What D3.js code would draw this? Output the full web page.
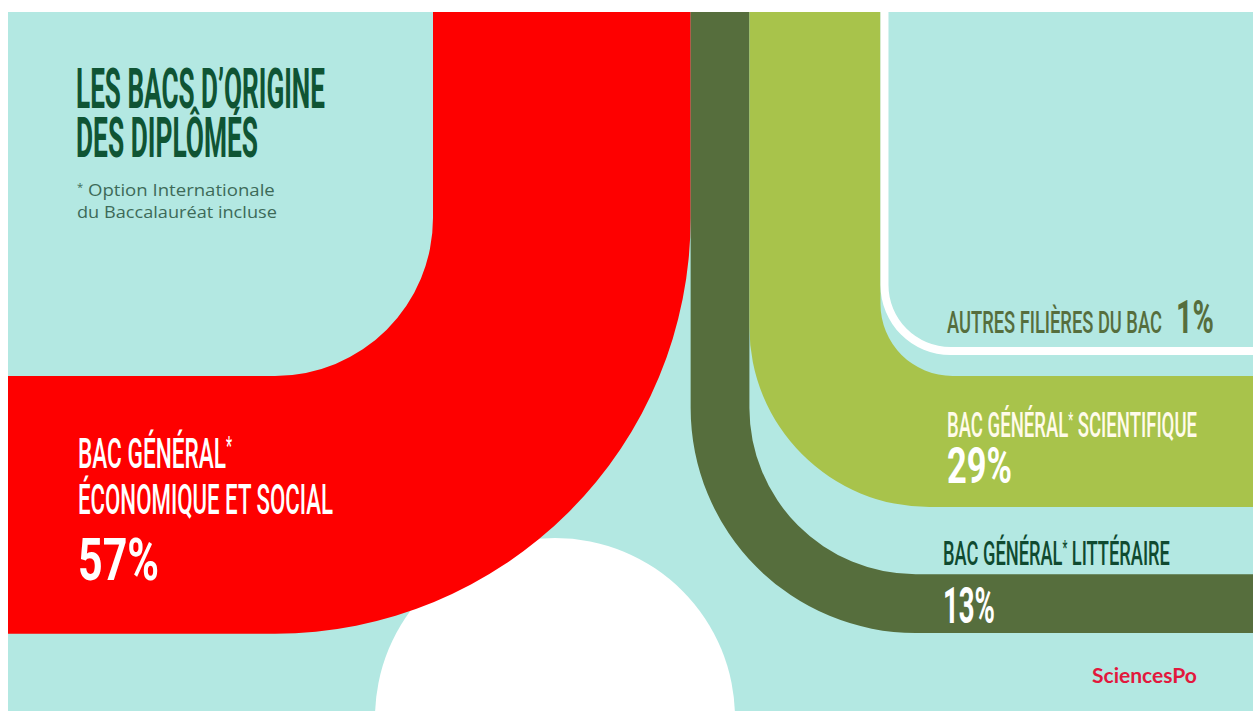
<!DOCTYPE html>
<html>
<head>
<meta charset="utf-8">
<script src="https://cdn.jsdelivr.net/npm/d3@7"></script>
<style>
  body { margin: 0; background: #fff; }
  svg { display: block; }
</style>
</head>
<body>
<svg></svg>
<script>
// Data: share of graduates by type of baccalauréat
const bacKeys = ["es", "l", "s", "autres"];
const bacLabels = ["BAC GÉNÉRAL*|ÉCONOMIQUE ET SOCIAL", "BAC GÉNÉRAL* LITTÉRAIRE", "BAC GÉNÉRAL* SCIENTIFIQUE", "AUTRES FILIÈRES DU BAC"];
const bacShares = [57, 13, 29, 1];

const width = 1253, height = 711;
const frame = { left: 8, top: 12 };

const colors = {
  bg: "#b3e8e2",
  es: "#fe0000",
  l: "#566e3d",
  s: "#a8c34b",
  autres: "#ffffff",
  title: "#0f5434"
};

// band thickness, in px per percent
const w = d3.scaleLinear().domain([0, 100]).range([0, 452]);

// where each band turns, and its corner radii (layout, not data)
const layout = {
  es:     { turn: "left",  yTop: 376, rIn: 158 },
  l:      { turn: "right", yBot: 633, rOut: 225 },
  s:      { turn: "right", yTop: 376, rOut: 180, rIn: 72 },
  autres: { turn: "right", yBot: 355, rOut: 70, minW: 8 }
};

const svg = d3.select("svg")
  .attr("width", width)
  .attr("height", height);

svg.append("rect")
  .attr("x", frame.left).attr("y", frame.top)
  .attr("width", width - frame.left).attr("height", height - frame.top)
  .attr("fill", colors.bg);

// decorative white disc at the bottom
svg.append("circle")
  .attr("cx", 555).attr("cy", 718).attr("r", 180)
  .attr("fill", "#fff");

// stack the vertical legs side by side from the left edge of the red band
const x0 = 433;
const bands = bacKeys.map((k, i) => {
  const before = d3.sum(bacShares.slice(0, i));
  const bw = Math.max(w(bacShares[i]), layout[k].minW || 0);
  return { key: k, share: bacShares[i], xL: x0 + w(before), bw: bw };
});

function bandPath(b) {
  const L = layout[b.key];
  const y0 = frame.top;
  const xL = b.xL, xR = b.xL + b.bw;
  if (L.turn === "left") {
    const yT = L.yTop, yB = yT + b.bw;
    const rIn = L.rIn, rOut = rIn + b.bw;
    return `M${xL},${y0}L${xR},${y0}L${xR},${yB - rOut}` +
      `A${rOut},${rOut} 0 0 1 ${xR - rOut},${yB}` +
      `L${frame.left},${yB}L${frame.left},${yT}L${xL - rIn},${yT}` +
      `A${rIn},${rIn} 0 0 0 ${xL},${yT - rIn}Z`;
  }
  const yB = L.yBot !== undefined ? L.yBot : L.yTop + b.bw;
  const yT = yB - b.bw;
  const rOut = L.rOut;
  const rIn = L.rIn !== undefined ? L.rIn : rOut - b.bw;
  return `M${xL},${y0}L${xL},${yB - rOut}` +
    `A${rOut},${rOut} 0 0 0 ${xL + rOut},${yB}` +
    `L${width},${yB}L${width},${yT}L${xR + rIn},${yT}` +
    `A${rIn},${rIn} 0 0 1 ${xR},${yT - rIn}L${xR},${y0}Z`;
}

svg.append("g")
  .selectAll("path")
  .data(bands)
  .join("path")
  .attr("d", bandPath)
  .attr("fill", d => colors[d.key]);

// condensed headline text: draw at natural width, then squeeze to fit
function label(x, y, txt, size, weight, fill, len, family) {
  const t = svg.append("text")
    .attr("font-family", family || "'Liberation Sans Narrow', Roboto, sans-serif")
    .attr("font-size", size)
    .attr("font-weight", weight)
    .attr("fill", fill);
  // raise the asterisk like a footnote mark
  const parts = txt.split("*");
  parts.forEach((p, i) => {
    if (i > 0) {
      t.append("tspan").attr("font-size", size * 0.6).attr("dy", -size * 0.3).text("*");
      t.append("tspan").attr("dy", size * 0.3).text(p);
    } else {
      t.append("tspan").text(p);
    }
  });
  const natural = t.node().getComputedTextLength();
  t.attr("transform", `translate(${x},${y}) scale(${len / natural},1)`);
}

// Title
label(76, 108, "LES BACS D’ORIGINE", 56, 700, colors.title, 249);
label(76, 157, "DES DIPLÔMÉS", 56, 700, colors.title, 182);
label(77, 196, "* Option Internationale", 17, 400, "#3d6a58", 198, "'Open Sans', sans-serif");
label(77, 218, "du Baccalauréat incluse", 17, 400, "#3d6a58", 200, "'Open Sans', sans-serif");

// Red band labels
const esLines = bacLabels[0].split("|");
label(78, 468, esLines[0], 42, 500, "#fff", 154);
label(78, 514, esLines[1], 42, 500, "#fff", 255);
label(78, 580, bacShares[0] + "%", 60, 700, "#fff", 81);

// Autres
label(947, 333, bacLabels[3], 31, 500, "#566e3d", 215);
label(1176, 333, bacShares[3] + "%", 47, 700, "#566e3d", 38);

// Scientifique
label(947, 437, bacLabels[2], 35, 500, "#fffbea", 250);
label(947, 483, bacShares[2] + "%", 50, 700, "#fff", 65);

// Littéraire
label(943, 565, bacLabels[1], 33, 500, "#0f4a30", 227);
label(943, 623, bacShares[1] + "%", 50, 700, "#fff", 52);

// logo
label(1092, 683, "SciencesPo", 21, 700, "#e2183d", 105, "Lato, 'Open Sans', sans-serif");
</script>
</body>
</html>
